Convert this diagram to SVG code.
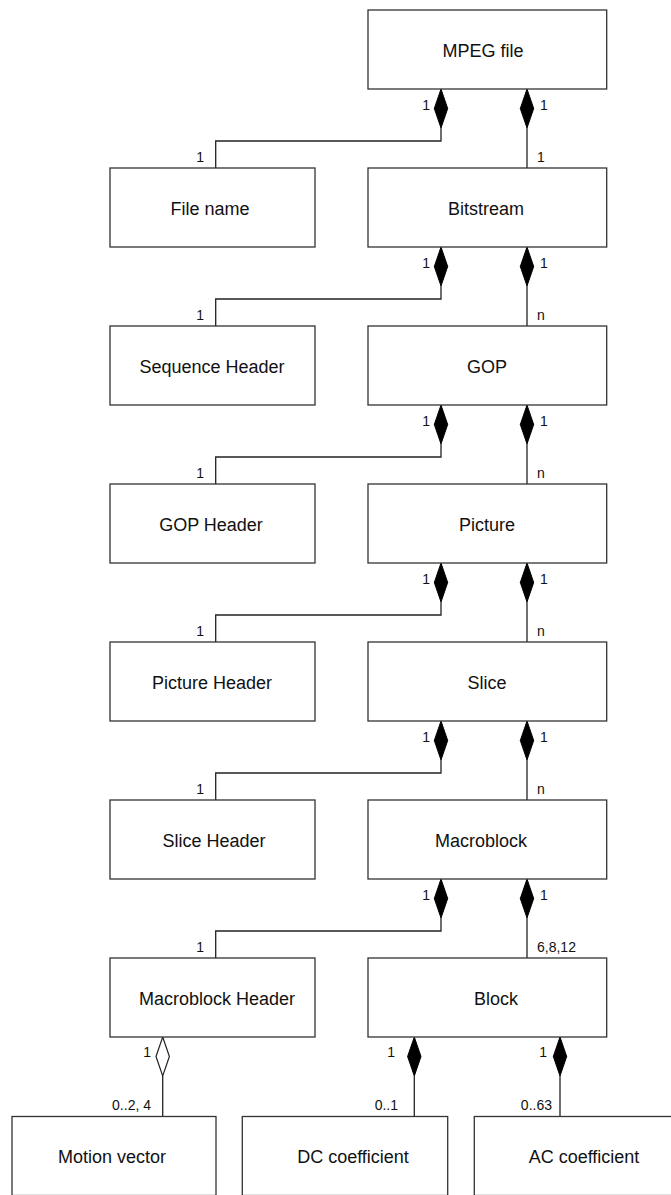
<svg xmlns="http://www.w3.org/2000/svg" width="671" height="1195" viewBox="0 0 671 1195">
<style>
.box{fill:#fff;stroke:#333;stroke-width:1.3}
.t{font-family:"Liberation Sans",Arial,sans-serif;font-size:18px;fill:#111;text-anchor:middle}
.m{font-family:"Liberation Sans",Arial,sans-serif;font-size:14px;fill:#111}
.e{text-anchor:end}
.ln{fill:none;stroke:#222;stroke-width:1.3}
.dm{fill:#000;stroke:#000;stroke-width:1}
.od{fill:#fff;stroke:#222;stroke-width:1.2}
</style>
<defs>
<path id="d" d="M0,0 L6.7,19.5 L0,39 L-6.7,19.5 Z"/>
</defs>
<rect width="671" height="1195" fill="#fff"/>
<g id="connectors">
<polyline class="ln" points="441,128 441,141 215.7,141 215.7,168"/>
<line class="ln" x1="527" y1="128" x2="527" y2="168"/>
<use href="#d" class="dm" x="441" y="89"/><use href="#d" class="dm" x="527" y="89"/>
<polyline class="ln" points="441,286 441,299 215.7,299 215.7,326"/>
<line class="ln" x1="527" y1="286" x2="527" y2="326"/>
<use href="#d" class="dm" x="441" y="247"/><use href="#d" class="dm" x="527" y="247"/>
<polyline class="ln" points="441,444 441,457 215.7,457 215.7,484"/>
<line class="ln" x1="527" y1="444" x2="527" y2="484"/>
<use href="#d" class="dm" x="441" y="405"/><use href="#d" class="dm" x="527" y="405"/>
<polyline class="ln" points="441,602 441,615 215.7,615 215.7,642"/>
<line class="ln" x1="527" y1="602" x2="527" y2="642"/>
<use href="#d" class="dm" x="441" y="563"/><use href="#d" class="dm" x="527" y="563"/>
<polyline class="ln" points="441,760 441,773 215.7,773 215.7,800"/>
<line class="ln" x1="527" y1="760" x2="527" y2="800"/>
<use href="#d" class="dm" x="441" y="721"/><use href="#d" class="dm" x="527" y="721"/>
<polyline class="ln" points="441,918 441,931 215.7,931 215.7,958"/>
<line class="ln" x1="527" y1="918" x2="527" y2="958"/>
<use href="#d" class="dm" x="441" y="879"/><use href="#d" class="dm" x="527" y="879"/>
<line class="ln" x1="162.7" y1="1076" x2="162.7" y2="1116"/>
<use href="#d" class="od" x="162.7" y="1037"/>
<line class="ln" x1="414.3" y1="1076" x2="414.3" y2="1116"/>
<use href="#d" class="dm" x="414.3" y="1037"/>
<line class="ln" x1="560" y1="1076" x2="560" y2="1116"/>
<use href="#d" class="dm" x="560" y="1037"/>
</g>
<g id="labels">
<text class="m e" x="430" y="110">1</text><text class="m" x="540" y="110">1</text>
<text class="m e" x="204" y="162">1</text><text class="m" x="537" y="162">1</text>
<text class="m e" x="430" y="268">1</text><text class="m" x="540" y="268">1</text>
<text class="m e" x="204" y="320">1</text><text class="m" x="537" y="320">n</text>
<text class="m e" x="430" y="426">1</text><text class="m" x="540" y="426">1</text>
<text class="m e" x="204" y="478">1</text><text class="m" x="537" y="478">n</text>
<text class="m e" x="430" y="584">1</text><text class="m" x="540" y="584">1</text>
<text class="m e" x="204" y="636">1</text><text class="m" x="537" y="636">n</text>
<text class="m e" x="430" y="742">1</text><text class="m" x="540" y="742">1</text>
<text class="m e" x="204" y="794">1</text><text class="m" x="537" y="794">n</text>
<text class="m e" x="430" y="900">1</text><text class="m" x="540" y="900">1</text>
<text class="m e" x="204" y="952">1</text><text class="m" x="537" y="952">6,8,12</text>
<text class="m e" x="151" y="1057">1</text>
<text class="m e" x="151" y="1110">0..2, 4</text>
<text class="m e" x="395" y="1057">1</text>
<text class="m e" x="398" y="1110">0..1</text>
<text class="m e" x="547" y="1057">1</text>
<text class="m e" x="552" y="1110">0..63</text>
</g>
<g id="n-mpeg"><rect class="box" x="368" y="10" width="238.7" height="79"/><text class="t" x="483" y="57">MPEG file</text></g>
<g id="n-filename"><rect class="box" x="110" y="168" width="205" height="79"/><text class="t" x="210" y="215">File name</text></g>
<g id="n-bitstream"><rect class="box" x="368" y="168" width="238.7" height="79"/><text class="t" x="486" y="215">Bitstream</text></g>
<g id="n-seqheader"><rect class="box" x="110" y="326" width="205" height="79"/><text class="t" x="212" y="373">Sequence Header</text></g>
<g id="n-gop"><rect class="box" x="368" y="326" width="238.7" height="79"/><text class="t" x="487" y="373">GOP</text></g>
<g id="n-gopheader"><rect class="box" x="110" y="484" width="205" height="79"/><text class="t" x="211" y="531">GOP Header</text></g>
<g id="n-picture"><rect class="box" x="368" y="484" width="238.7" height="79"/><text class="t" x="487" y="531">Picture</text></g>
<g id="n-picheader"><rect class="box" x="110" y="642" width="205" height="79"/><text class="t" x="212" y="689">Picture Header</text></g>
<g id="n-slice"><rect class="box" x="368" y="642" width="238.7" height="79"/><text class="t" x="487" y="689">Slice</text></g>
<g id="n-sliceheader"><rect class="box" x="110" y="800" width="205" height="79"/><text class="t" x="214" y="847">Slice Header</text></g>
<g id="n-macroblock"><rect class="box" x="368" y="800" width="238.7" height="79"/><text class="t" x="481" y="847">Macroblock</text></g>
<g id="n-mbheader"><rect class="box" x="110" y="958" width="205" height="79"/><text class="t" x="217" y="1005">Macroblock Header</text></g>
<g id="n-block"><rect class="box" x="368" y="958" width="238.7" height="79"/><text class="t" x="496" y="1005">Block</text></g>
<g id="n-motion"><rect class="box" x="12" y="1116.5" width="204" height="79"/><text class="t" x="112" y="1163">Motion vector</text></g>
<g id="n-dc"><rect class="box" x="242.3" y="1116.5" width="205.4" height="79"/><text class="t" x="353" y="1163">DC coefficient</text></g>
<g id="n-ac"><rect class="box" x="474.3" y="1116.5" width="205.4" height="79"/><text class="t" x="584" y="1163">AC coefficient</text></g>
</svg>
